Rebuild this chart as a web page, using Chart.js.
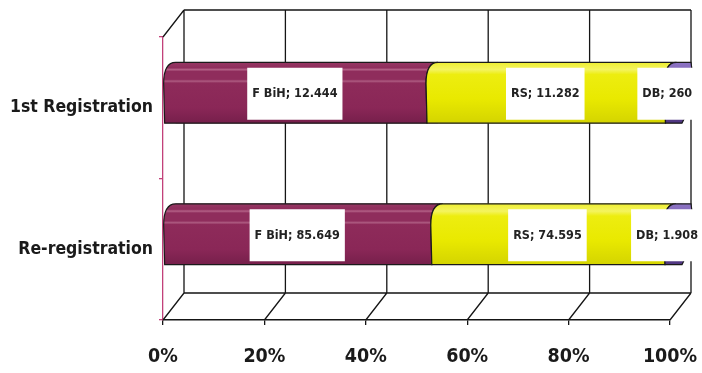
<!DOCTYPE html>
<html>
<head>
<meta charset="utf-8">
<script src="https://cdn.jsdelivr.net/npm/chart.js@4.4.1/dist/chart.umd.min.js"></script>
<style>
  html, body { margin: 0; padding: 0; background: #fff; }
  #wrap { width: 702px; height: 373px; }
</style>
</head>
<body>
<div id="wrap"><canvas id="regChart" width="702" height="373"></canvas></div>
<script>
// --- data (counts per entity) ---
var categories = ['1st Registration', 'Re-registration'];
var seriesNames = ['F BiH', 'RS', 'DB'];
var fbihValues = [12444, 85649];
var rsValues = [11282, 74595];
var dbValues = [260, 1908];
var tickValues = [0, 20, 40, 60, 80, 100];

var FONT = "'DejaVu Sans Condensed', 'DejaVu Sans', sans-serif";
var DEPTH_X = 21, DEPTH_Y = -27;   // back wall offset from the front plane
var BAR_DX = 12, BAR_DY = -15;     // cylinders sit in the middle of the depth

var rawSeries = [fbihValues, rsValues, dbValues];
var totals = categories.map(function (c, i) {
  return fbihValues[i] + rsValues[i] + dbValues[i];
});
function toPercent(arr) {
  return arr.map(function (v, i) { return v / totals[i] * 100; });
}
function fmt(n) {
  return String(n).replace(/\B(?=(\d{3})+(?!\d))/g, '.');
}

// fill gradients for the cylinders
function shade(ctx, idx, T, B) {
  var g = ctx.createLinearGradient(0, T, 0, B);
  if (idx === 0) {
    g.addColorStop(0, '#963763');
    g.addColorStop(0.09, '#8f2d5c');
    g.addColorStop(0.12, '#b36086');
    g.addColorStop(0.15, '#8f2d5c');
    g.addColorStop(0.28, '#8f2d5c');
    g.addColorStop(0.31, '#ad5a80');
    g.addColorStop(0.34, '#8e2b5a');
    g.addColorStop(0.75, '#8a2757');
    g.addColorStop(1, '#761f4b');
  } else if (idx === 1) {
    g.addColorStop(0, '#eeee30');
    g.addColorStop(0.12, '#f4f460');
    g.addColorStop(0.2, '#eded10');
    g.addColorStop(0.6, '#e9e900');
    g.addColorStop(1, '#d4d400');
  } else {
    g.addColorStop(0, '#8d74c4');
    g.addColorStop(0.5, '#6c4fa0');
    g.addColorStop(1, '#4f3680');
  }
  return g;
}

function cylPath(ctx, x0, x1, T, B, last) {
  var H = B - T, m = T + H * 0.35;
  ctx.beginPath();
  ctx.moveTo(x0 + 12, T);
  if (last) {
    ctx.lineTo(x1 + 21, T);
    ctx.bezierCurveTo(x1 + 25, T + H * 0.35, x1 + 19, B - H * 0.2, x1 + 12, B);
  } else {
    ctx.lineTo(x1 + 12, T);
    ctx.quadraticCurveTo(x1, T, x1, m);
    ctx.lineTo(x1 + 1, B);
  }
  ctx.lineTo(x0 + 1, B);
  ctx.lineTo(x0, m);
  ctx.quadraticCurveTo(x0, T, x0 + 12, T);
  ctx.closePath();
}

var box3d = {
  id: 'box3d',
  beforeDatasetsDraw: function (chart) {
    var ctx = chart.ctx, a = chart.chartArea, xs = chart.scales.x;
    ctx.save();
    ctx.strokeStyle = '#151515';
    ctx.lineWidth = 1.3;
    ctx.beginPath();
    tickValues.forEach(function (v) {
      var xf = xs.getPixelForValue(v);
      ctx.moveTo(xf + DEPTH_X, a.top + DEPTH_Y);
      ctx.lineTo(xf + DEPTH_X, a.bottom + DEPTH_Y);
      ctx.moveTo(xf, a.bottom);
      ctx.lineTo(xf + DEPTH_X, a.bottom + DEPTH_Y);
    });
    ctx.moveTo(a.left + DEPTH_X, a.top + DEPTH_Y);
    ctx.lineTo(a.right + DEPTH_X, a.top + DEPTH_Y);
    ctx.moveTo(a.left + DEPTH_X, a.bottom + DEPTH_Y);
    ctx.lineTo(a.right + DEPTH_X, a.bottom + DEPTH_Y);
    ctx.moveTo(a.left, a.top);
    ctx.lineTo(a.left + DEPTH_X, a.top + DEPTH_Y);
    ctx.stroke();
    ctx.restore();
    // plain bars get pushed into the middle of the box
    ctx.save();
    ctx.translate(BAR_DX, BAR_DY);
  },
  afterDatasetsDraw: function (chart) {
    var ctx = chart.ctx;
    ctx.restore();
    var n = chart.data.datasets.length;

    // cylinder segments on top of the plain bars
    categories.forEach(function (c, i) {
      for (var d = 0; d < n; d++) {
        var el = chart.getDatasetMeta(d).data[i];
        var T = el.y + BAR_DY - el.height / 2;
        var B = el.y + BAR_DY + el.height / 2;
        cylPath(ctx, el.base, el.x, T, B, d === n - 1);
        ctx.fillStyle = shade(ctx, d, T, B);
        ctx.fill();
        ctx.strokeStyle = '#1a1a1a';
        ctx.lineWidth = 1.2;
        ctx.stroke();
      }
    });

    // data labels in white boxes
    ctx.save();
    ctx.font = 'bold 12.5px ' + FONT;
    ctx.textAlign = 'center';
    ctx.textBaseline = 'middle';
    categories.forEach(function (c, i) {
      for (var d = 0; d < n; d++) {
        var el = chart.getDatasetMeta(d).data[i];
        var txt = seriesNames[d] + '; ' + fmt(rawSeries[d][i]);
        var cx = (el.base + el.x) / 2;
        var cy = el.y + BAR_DY + 1;
        var w = ctx.measureText(txt).width + 10;
        ctx.fillStyle = '#ffffff';
        ctx.fillRect(cx - w / 2, cy - 26, w, 52);
        ctx.fillStyle = '#222';
        ctx.fillText(txt, cx, cy);
      }
    });
    ctx.restore();
  }
};

var ctx = document.getElementById('regChart').getContext('2d');

var regChart = new Chart(ctx, {
  type: 'bar',
  data: {
    labels: categories,
    datasets: [
      { label: seriesNames[0], data: toPercent(fbihValues), backgroundColor: '#8c2a5a' },
      { label: seriesNames[1], data: toPercent(rsValues), backgroundColor: '#ecec08' },
      { label: seriesNames[2], data: toPercent(dbValues), backgroundColor: '#6c4fa0' }
    ]
  },
  options: {
    indexAxis: 'y',
    responsive: false,
    animation: false,
    layout: { padding: { top: 37, right: 32, left: 0, bottom: 0 } },
    datasets: { bar: { barPercentage: 0.43, categoryPercentage: 1 } },
    plugins: {
      legend: { display: false },
      tooltip: { enabled: false }
    },
    scales: {
      x: {
        stacked: true,
        min: 0,
        max: 100,
        afterFit: function (s) {
          s.height = 53;
          s.paddingLeft = 0;
          s.paddingRight = 0;
        },
        afterBuildTicks: function (s) {
          s.ticks = tickValues.map(function (v) { return { value: v }; });
        },
        grid: { display: true, drawOnChartArea: false, drawTicks: true, tickLength: 5, color: '#151515', lineWidth: 1.3 },
        border: { display: true, color: '#151515', width: 1.5 },
        ticks: {
          padding: 20,
          color: '#1a1a1a',
          font: { family: FONT, size: 19.5, weight: 'bold' },
          callback: function (v) { return v + '%'; }
        }
      },
      y: {
        stacked: true,
        afterFit: function (s) { s.width = 163; },
        grid: { display: true, drawOnChartArea: false, drawTicks: true, tickLength: 4, color: '#c2417a', lineWidth: 1.3 },
        border: { display: true, color: '#c2417a', width: 1.3 },
        ticks: {
          padding: 6,
          color: '#1a1a1a',
          font: { family: FONT, size: 17.5, weight: 'bold' }
        }
      }
    }
  },
  plugins: [box3d]
});
</script>
</body>
</html>
